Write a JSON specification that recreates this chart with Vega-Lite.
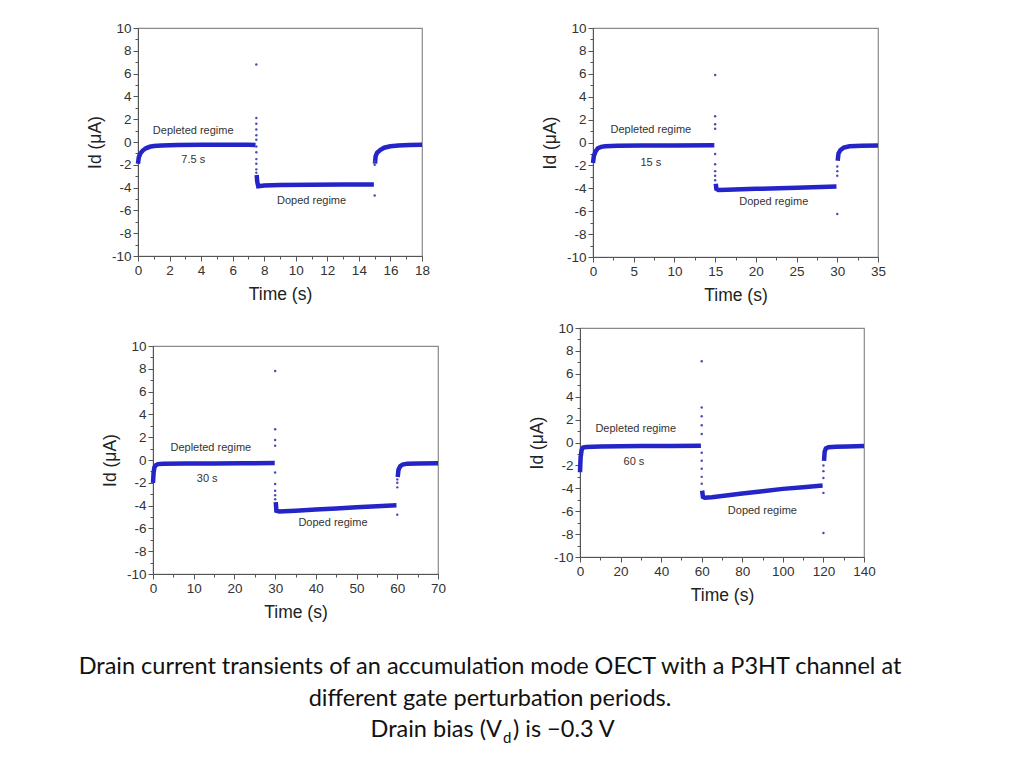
{
  "$schema": "https://vega.github.io/schema/vega-lite/v6.json",
  "padding": {"left": 77, "top": 20, "right": 0, "bottom": 0},
  "background": "white",
  "datasets": {
    "p1": [
      {"seg": "a", "kind": "band", "t": 0, "i": -1.9},
      {"seg": "a", "kind": "band", "t": 0.05, "i": -1.35},
      {"seg": "a", "kind": "band", "t": 0.15, "i": -1.0},
      {"seg": "a", "kind": "band", "t": 0.3, "i": -0.75},
      {"seg": "a", "kind": "band", "t": 0.5, "i": -0.55},
      {"seg": "a", "kind": "band", "t": 0.75, "i": -0.42},
      {"seg": "a", "kind": "band", "t": 1.0, "i": -0.36},
      {"seg": "a", "kind": "band", "t": 1.5, "i": -0.3},
      {"seg": "a", "kind": "band", "t": 2.5, "i": -0.27},
      {"seg": "a", "kind": "band", "t": 4, "i": -0.25},
      {"seg": "a", "kind": "band", "t": 5.5, "i": -0.25},
      {"seg": "a", "kind": "band", "t": 7.0, "i": -0.24},
      {"seg": "a", "kind": "band", "t": 7.45, "i": -0.27},
      {"seg": "b", "kind": "band", "t": 7.52, "i": -2.9},
      {"seg": "b", "kind": "band", "t": 7.56, "i": -3.5},
      {"seg": "b", "kind": "band", "t": 7.62, "i": -3.88},
      {"seg": "b", "kind": "band", "t": 8.0, "i": -3.82},
      {"seg": "b", "kind": "band", "t": 9, "i": -3.78},
      {"seg": "b", "kind": "band", "t": 11, "i": -3.75},
      {"seg": "b", "kind": "band", "t": 13, "i": -3.73},
      {"seg": "b", "kind": "band", "t": 14.95, "i": -3.72},
      {"seg": "c", "kind": "band", "t": 15.02, "i": -1.9},
      {"seg": "c", "kind": "band", "t": 15.06, "i": -1.25},
      {"seg": "c", "kind": "band", "t": 15.15, "i": -0.95},
      {"seg": "c", "kind": "band", "t": 15.35, "i": -0.7},
      {"seg": "c", "kind": "band", "t": 15.6, "i": -0.5},
      {"seg": "c", "kind": "band", "t": 16.0, "i": -0.37},
      {"seg": "c", "kind": "band", "t": 16.5, "i": -0.3},
      {"seg": "c", "kind": "band", "t": 17.2, "i": -0.26},
      {"seg": "c", "kind": "band", "t": 18, "i": -0.25},
      {"seg": "s1", "kind": "dot", "t": 7.5, "i": 6.8},
      {"seg": "s1", "kind": "dot", "t": 7.5, "i": 2.1},
      {"seg": "s1", "kind": "dot", "t": 7.5, "i": 1.6},
      {"seg": "s1", "kind": "dot", "t": 7.5, "i": 1.1},
      {"seg": "s1", "kind": "dot", "t": 7.5, "i": 0.6},
      {"seg": "s1", "kind": "dot", "t": 7.5, "i": 0.2},
      {"seg": "s1", "kind": "dot", "t": 7.5, "i": -0.4},
      {"seg": "s1", "kind": "dot", "t": 7.5, "i": -0.9},
      {"seg": "s1", "kind": "dot", "t": 7.5, "i": -1.5},
      {"seg": "s1", "kind": "dot", "t": 7.5, "i": -1.9},
      {"seg": "s1", "kind": "dot", "t": 7.5, "i": -2.4},
      {"seg": "s1", "kind": "dot", "t": 7.5, "i": -2.7},
      {"seg": "s2", "kind": "dot", "t": 15, "i": -4.7},
      {"seg": "s2", "kind": "dot", "t": 15, "i": -2.0},
      {"seg": "s2", "kind": "dot", "t": 15, "i": -1.7}
    ],
    "p2": [
      {"seg": "a", "kind": "band", "t": 0, "i": -1.8},
      {"seg": "a", "kind": "band", "t": 0.1, "i": -1.2},
      {"seg": "a", "kind": "band", "t": 0.3, "i": -0.8},
      {"seg": "a", "kind": "band", "t": 0.6, "i": -0.5},
      {"seg": "a", "kind": "band", "t": 1.0, "i": -0.38},
      {"seg": "a", "kind": "band", "t": 1.5, "i": -0.32},
      {"seg": "a", "kind": "band", "t": 3, "i": -0.28},
      {"seg": "a", "kind": "band", "t": 6, "i": -0.27},
      {"seg": "a", "kind": "band", "t": 10, "i": -0.26},
      {"seg": "a", "kind": "band", "t": 14.9, "i": -0.25},
      {"seg": "b", "kind": "band", "t": 15.08, "i": -3.6},
      {"seg": "b", "kind": "band", "t": 15.15, "i": -4.05},
      {"seg": "b", "kind": "band", "t": 15.4, "i": -4.15},
      {"seg": "b", "kind": "band", "t": 16.5, "i": -4.12},
      {"seg": "b", "kind": "band", "t": 20, "i": -4.05},
      {"seg": "b", "kind": "band", "t": 25, "i": -3.95},
      {"seg": "b", "kind": "band", "t": 29.9, "i": -3.85},
      {"seg": "c", "kind": "band", "t": 30.05, "i": -1.6},
      {"seg": "c", "kind": "band", "t": 30.15, "i": -0.95},
      {"seg": "c", "kind": "band", "t": 30.4, "i": -0.65},
      {"seg": "c", "kind": "band", "t": 30.8, "i": -0.45},
      {"seg": "c", "kind": "band", "t": 31.5, "i": -0.33},
      {"seg": "c", "kind": "band", "t": 33, "i": -0.28},
      {"seg": "c", "kind": "band", "t": 35, "i": -0.26},
      {"seg": "s1", "kind": "dot", "t": 15, "i": 5.9},
      {"seg": "s1", "kind": "dot", "t": 15, "i": 2.3},
      {"seg": "s1", "kind": "dot", "t": 15, "i": 1.6},
      {"seg": "s1", "kind": "dot", "t": 15, "i": 1.2},
      {"seg": "s1", "kind": "dot", "t": 15, "i": -1.0},
      {"seg": "s1", "kind": "dot", "t": 15, "i": -1.9},
      {"seg": "s1", "kind": "dot", "t": 15, "i": -2.5},
      {"seg": "s1", "kind": "dot", "t": 15, "i": -2.9},
      {"seg": "s1", "kind": "dot", "t": 15, "i": -3.3},
      {"seg": "s2", "kind": "dot", "t": 30, "i": -6.25},
      {"seg": "s2", "kind": "dot", "t": 30, "i": -2.9},
      {"seg": "s2", "kind": "dot", "t": 30, "i": -2.5},
      {"seg": "s2", "kind": "dot", "t": 30, "i": -2.1}
    ],
    "p3": [
      {"seg": "a", "kind": "band", "t": 0, "i": -2.0},
      {"seg": "a", "kind": "band", "t": 0.15, "i": -1.1},
      {"seg": "a", "kind": "band", "t": 0.35, "i": -0.65},
      {"seg": "a", "kind": "band", "t": 0.7, "i": -0.45},
      {"seg": "a", "kind": "band", "t": 1.2, "i": -0.36},
      {"seg": "a", "kind": "band", "t": 2.5, "i": -0.32},
      {"seg": "a", "kind": "band", "t": 8, "i": -0.3},
      {"seg": "a", "kind": "band", "t": 15, "i": -0.3},
      {"seg": "a", "kind": "band", "t": 22, "i": -0.28},
      {"seg": "a", "kind": "band", "t": 29.9, "i": -0.27},
      {"seg": "b", "kind": "band", "t": 30.15, "i": -3.7},
      {"seg": "b", "kind": "band", "t": 30.3, "i": -4.45},
      {"seg": "b", "kind": "band", "t": 31, "i": -4.52},
      {"seg": "b", "kind": "band", "t": 35, "i": -4.45},
      {"seg": "b", "kind": "band", "t": 40, "i": -4.35},
      {"seg": "b", "kind": "band", "t": 45, "i": -4.25},
      {"seg": "b", "kind": "band", "t": 50, "i": -4.15},
      {"seg": "b", "kind": "band", "t": 55, "i": -4.05},
      {"seg": "b", "kind": "band", "t": 59.8, "i": -3.97},
      {"seg": "c", "kind": "band", "t": 60.1, "i": -1.5},
      {"seg": "c", "kind": "band", "t": 60.3, "i": -0.85},
      {"seg": "c", "kind": "band", "t": 60.7, "i": -0.55},
      {"seg": "c", "kind": "band", "t": 61.3, "i": -0.4},
      {"seg": "c", "kind": "band", "t": 62.5, "i": -0.32},
      {"seg": "c", "kind": "band", "t": 65, "i": -0.3},
      {"seg": "c", "kind": "band", "t": 70, "i": -0.28},
      {"seg": "s1", "kind": "dot", "t": 30, "i": 7.8},
      {"seg": "s1", "kind": "dot", "t": 30, "i": 2.7},
      {"seg": "s1", "kind": "dot", "t": 30, "i": 1.75},
      {"seg": "s1", "kind": "dot", "t": 30, "i": 1.25},
      {"seg": "s1", "kind": "dot", "t": 30, "i": -1.1},
      {"seg": "s1", "kind": "dot", "t": 30, "i": -2.1},
      {"seg": "s1", "kind": "dot", "t": 30, "i": -2.7},
      {"seg": "s1", "kind": "dot", "t": 30, "i": -3.1},
      {"seg": "s1", "kind": "dot", "t": 30, "i": -3.45},
      {"seg": "s2", "kind": "dot", "t": 60, "i": -4.8},
      {"seg": "s2", "kind": "dot", "t": 60, "i": -2.4},
      {"seg": "s2", "kind": "dot", "t": 60, "i": -2.0},
      {"seg": "s2", "kind": "dot", "t": 60, "i": -1.7}
    ],
    "p4": [
      {"seg": "a", "kind": "band", "t": 0, "i": -2.6},
      {"seg": "a", "kind": "band", "t": 0.3, "i": -1.3},
      {"seg": "a", "kind": "band", "t": 0.8, "i": -0.65},
      {"seg": "a", "kind": "band", "t": 1.5, "i": -0.45},
      {"seg": "a", "kind": "band", "t": 3, "i": -0.4},
      {"seg": "a", "kind": "band", "t": 10, "i": -0.36},
      {"seg": "a", "kind": "band", "t": 20, "i": -0.33},
      {"seg": "a", "kind": "band", "t": 30, "i": -0.31},
      {"seg": "a", "kind": "band", "t": 45, "i": -0.3},
      {"seg": "a", "kind": "band", "t": 59.6, "i": -0.28},
      {"seg": "b", "kind": "band", "t": 60.2, "i": -4.2},
      {"seg": "b", "kind": "band", "t": 60.6, "i": -4.75},
      {"seg": "b", "kind": "band", "t": 61.5, "i": -4.82},
      {"seg": "b", "kind": "band", "t": 65, "i": -4.78},
      {"seg": "b", "kind": "band", "t": 70, "i": -4.68},
      {"seg": "b", "kind": "band", "t": 80, "i": -4.45},
      {"seg": "b", "kind": "band", "t": 90, "i": -4.25},
      {"seg": "b", "kind": "band", "t": 100, "i": -4.05},
      {"seg": "b", "kind": "band", "t": 110, "i": -3.9},
      {"seg": "b", "kind": "band", "t": 119.6, "i": -3.75},
      {"seg": "c", "kind": "band", "t": 120.3, "i": -1.6},
      {"seg": "c", "kind": "band", "t": 120.6, "i": -0.8},
      {"seg": "c", "kind": "band", "t": 121.2, "i": -0.52},
      {"seg": "c", "kind": "band", "t": 122.5, "i": -0.42},
      {"seg": "c", "kind": "band", "t": 126, "i": -0.38},
      {"seg": "c", "kind": "band", "t": 132, "i": -0.34},
      {"seg": "c", "kind": "band", "t": 140, "i": -0.3},
      {"seg": "s1", "kind": "dot", "t": 60, "i": 7.1},
      {"seg": "s1", "kind": "dot", "t": 60, "i": 3.05},
      {"seg": "s1", "kind": "dot", "t": 60, "i": 2.3},
      {"seg": "s1", "kind": "dot", "t": 60, "i": 1.5},
      {"seg": "s1", "kind": "dot", "t": 60, "i": 0.75},
      {"seg": "s1", "kind": "dot", "t": 60, "i": -0.9},
      {"seg": "s1", "kind": "dot", "t": 60, "i": -1.6},
      {"seg": "s1", "kind": "dot", "t": 60, "i": -2.3},
      {"seg": "s1", "kind": "dot", "t": 60, "i": -3.0},
      {"seg": "s1", "kind": "dot", "t": 60, "i": -3.6},
      {"seg": "s2", "kind": "dot", "t": 120, "i": -7.9},
      {"seg": "s2", "kind": "dot", "t": 120, "i": -4.4},
      {"seg": "s2", "kind": "dot", "t": 120, "i": -3.1},
      {"seg": "s2", "kind": "dot", "t": 120, "i": -2.5},
      {"seg": "s2", "kind": "dot", "t": 120, "i": -2.0}
    ],
    "notes1": [
      {"label": "Depleted regime", "t": 3.5, "i": 1.0},
      {"label": "7.5 s", "t": 3.5, "i": -1.6},
      {"label": "Doped regime", "t": 11.0, "i": -5.2}
    ],
    "notes2": [
      {"label": "Depleted regime", "t": 7.1, "i": 1.07},
      {"label": "15 s", "t": 7.1, "i": -1.8},
      {"label": "Doped regime", "t": 22.2, "i": -5.24}
    ],
    "notes3": [
      {"label": "Depleted regime", "t": 14.2, "i": 1.08},
      {"label": "30 s", "t": 13.3, "i": -1.7},
      {"label": "Doped regime", "t": 44.2, "i": -5.55}
    ],
    "notes4": [
      {"label": "Depleted regime", "t": 27.5, "i": 1.16},
      {"label": "60 s", "t": 26.6, "i": -1.74},
      {"label": "Doped regime", "t": 89.9, "i": -6.0}
    ],
    "caption": [
      {"line": 1, "part": "full", "text": "Drain current transients of an accumulation mode OECT with a P3HT channel at"},
      {"line": 2, "part": "full", "text": "different gate perturbation periods."},
      {"line": 3, "part": "a", "text": "Drain bias (V"},
      {"line": 3, "part": "sub", "text": "d"},
      {"line": 3, "part": "b", "text": ") is −0.3 V"}
    ]
  },
  "vconcat": [
    {
      "hconcat": [
        {
          "width": 284,
          "height": 228,
          "layer": [
            {
              "data": {"name": "p1"},
              "transform": [{"filter": "datum.kind === 'band'"}],
              "mark": {"type": "line", "color": "#2424c8", "strokeWidth": 4.5},
              "encoding": {
                "x": {
                  "field": "t",
                  "type": "quantitative",
                  "title": "Time (s)",
                  "scale": {"domain": [0, 18], "nice": false, "zero": false},
                  "axis": {
                    "values": [0, 1, 2, 3, 4, 5, 6, 7, 8, 9, 10, 11, 12, 13, 14, 15, 16, 17, 18],
                    "tickCount": 60,
                    "labelExpr": "datum.value % 2 === 0 ? '' + datum.value : ''",
                    "labelOverlap": false,
                    "tickSize": {"condition": {"test": "datum.value % 2 === 0", "value": 5}, "value": 3}
                  }
                },
                "y": {
                  "field": "i",
                  "type": "quantitative",
                  "title": "Id (μA)",
                  "scale": {"domain": [-10, 10], "nice": false},
                  "axis": {
                    "values": [-10, -9, -8, -7, -6, -5, -4, -3, -2, -1, 0, 1, 2, 3, 4, 5, 6, 7, 8, 9, 10],
                    "tickCount": 60,
                    "labelExpr": "datum.value % 2 === 0 ? '' + datum.value : ''",
                    "labelOverlap": false,
                    "tickSize": {"condition": {"test": "datum.value % 2 === 0", "value": 5}, "value": 3}
                  }
                },
                "detail": {"field": "seg"}
              }
            },
            {
              "data": {"name": "p1"},
              "transform": [{"filter": "datum.kind === 'dot'"}],
              "mark": {"type": "circle", "color": "#4a4ab8", "size": 6, "opacity": 1},
              "encoding": {
                "x": {"field": "t", "type": "quantitative"},
                "y": {"field": "i", "type": "quantitative"}
              }
            },
            {
              "mark": {"type": "rule", "color": "#8c8c8c", "strokeWidth": 1.2},
              "encoding": {"y": {"datum": 0}}
            },
            {
              "mark": {"type": "rule", "color": "#555555", "strokeWidth": 1, "strokeDash": [2, 2]},
              "encoding": {"y": {"datum": -4.12}}
            },
            {
              "data": {"name": "notes1"},
              "mark": {"type": "text", "font": "Liberation Sans", "fontSize": 11, "color": "#333333"},
              "encoding": {
                "x": {"field": "t", "type": "quantitative"},
                "y": {"field": "i", "type": "quantitative"},
                "text": {"field": "label"}
              }
            }
          ]
        },
        {
          "width": 285,
          "height": 229,
          "layer": [
            {
              "data": {"name": "p2"},
              "transform": [{"filter": "datum.kind === 'band'"}],
              "mark": {"type": "line", "color": "#2424c8", "strokeWidth": 4.5},
              "encoding": {
                "x": {
                  "field": "t",
                  "type": "quantitative",
                  "title": "Time (s)",
                  "scale": {"domain": [0, 35], "nice": false, "zero": false},
                  "axis": {
                    "values": [0, 2.5, 5, 7.5, 10, 12.5, 15, 17.5, 20, 22.5, 25, 27.5, 30, 32.5, 35],
                    "tickCount": 60,
                    "labelExpr": "datum.value % 5 === 0 ? '' + datum.value : ''",
                    "labelOverlap": false,
                    "tickSize": {"condition": {"test": "datum.value % 5 === 0", "value": 5}, "value": 3}
                  }
                },
                "y": {
                  "field": "i",
                  "type": "quantitative",
                  "title": "Id (μA)",
                  "scale": {"domain": [-10, 10], "nice": false},
                  "axis": {
                    "values": [-10, -9, -8, -7, -6, -5, -4, -3, -2, -1, 0, 1, 2, 3, 4, 5, 6, 7, 8, 9, 10],
                    "tickCount": 60,
                    "labelExpr": "datum.value % 2 === 0 ? '' + datum.value : ''",
                    "labelOverlap": false,
                    "tickSize": {"condition": {"test": "datum.value % 2 === 0", "value": 5}, "value": 3}
                  }
                },
                "detail": {"field": "seg"}
              }
            },
            {
              "data": {"name": "p2"},
              "transform": [{"filter": "datum.kind === 'dot'"}],
              "mark": {"type": "circle", "color": "#4a4ab8", "size": 6, "opacity": 1},
              "encoding": {
                "x": {"field": "t", "type": "quantitative"},
                "y": {"field": "i", "type": "quantitative"}
              }
            },
            {
              "mark": {"type": "rule", "color": "#8c8c8c", "strokeWidth": 1.2},
              "encoding": {"y": {"datum": 0}}
            },
            {
              "mark": {"type": "rule", "color": "#555555", "strokeWidth": 1, "strokeDash": [2, 2]},
              "encoding": {"y": {"datum": -4.43}}
            },
            {
              "data": {"name": "notes2"},
              "mark": {"type": "text", "font": "Liberation Sans", "fontSize": 11, "color": "#333333"},
              "encoding": {
                "x": {"field": "t", "type": "quantitative"},
                "y": {"field": "i", "type": "quantitative"},
                "text": {"field": "label"}
              }
            }
          ]
        }
      ],
      "spacing": 108
    },
    {
      "hconcat": [
        {
          "hconcat": [
            {
              "width": 1,
              "height": 1,
              "view": {"stroke": null},
              "data": {"values": [{}]},
              "mark": {"type": "point", "opacity": 0, "size": 0}
            },
            {
              "vconcat": [
                {
                  "width": 1,
                  "height": 1,
                  "view": {"stroke": null},
                  "data": {"values": [{}]},
                  "mark": {"type": "point", "opacity": 0, "size": 0}
                },
                {
                  "width": 285,
                  "height": 228,
                  "layer": [
                    {
                      "data": {"name": "p3"},
                      "transform": [{"filter": "datum.kind === 'band'"}],
                      "mark": {"type": "line", "color": "#2424c8", "strokeWidth": 4.5},
                      "encoding": {
                        "x": {
                          "field": "t",
                          "type": "quantitative",
                          "title": "Time (s)",
                          "scale": {"domain": [0, 70], "nice": false, "zero": false},
                          "axis": {
                            "values": [0, 5, 10, 15, 20, 25, 30, 35, 40, 45, 50, 55, 60, 65, 70],
                            "tickCount": 60,
                            "labelExpr": "datum.value % 10 === 0 ? '' + datum.value : ''",
                            "labelOverlap": false,
                            "tickSize": {"condition": {"test": "datum.value % 10 === 0", "value": 5}, "value": 3}
                          }
                        },
                        "y": {
                          "field": "i",
                          "type": "quantitative",
                          "title": "Id (μA)",
                          "scale": {"domain": [-10, 10], "nice": false},
                          "axis": {
                            "values": [-10, -9, -8, -7, -6, -5, -4, -3, -2, -1, 0, 1, 2, 3, 4, 5, 6, 7, 8, 9, 10],
                            "tickCount": 60,
                            "labelExpr": "datum.value % 2 === 0 ? '' + datum.value : ''",
                            "labelOverlap": false,
                            "tickSize": {"condition": {"test": "datum.value % 2 === 0", "value": 5}, "value": 3}
                          }
                        },
                        "detail": {"field": "seg"}
                      }
                    },
                    {
                      "data": {"name": "p3"},
                      "transform": [{"filter": "datum.kind === 'dot'"}],
                      "mark": {"type": "circle", "color": "#4a4ab8", "size": 6, "opacity": 1},
                      "encoding": {
                        "x": {"field": "t", "type": "quantitative"},
                        "y": {"field": "i", "type": "quantitative"}
                      }
                    },
                    {
                      "mark": {"type": "rule", "color": "#8c8c8c", "strokeWidth": 1.2},
                      "encoding": {"y": {"datum": 0}}
                    },
                    {
                      "mark": {"type": "rule", "color": "#555555", "strokeWidth": 1, "strokeDash": [2, 2]},
                      "encoding": {"y": {"datum": -4.88}}
                    },
                    {
                      "data": {"name": "notes3"},
                      "mark": {"type": "text", "font": "Liberation Sans", "fontSize": 11, "color": "#333333"},
                      "encoding": {
                        "x": {"field": "t", "type": "quantitative"},
                        "y": {"field": "i", "type": "quantitative"},
                        "text": {"field": "label"}
                      }
                    }
                  ]
                }
              ],
              "spacing": 9
            }
          ],
          "spacing": -39
        },
        {
          "width": 284,
          "height": 229,
          "layer": [
            {
              "data": {"name": "p4"},
              "transform": [{"filter": "datum.kind === 'band'"}],
              "mark": {"type": "line", "color": "#2424c8", "strokeWidth": 4.5},
              "encoding": {
                "x": {
                  "field": "t",
                  "type": "quantitative",
                  "title": "Time (s)",
                  "scale": {"domain": [0, 140], "nice": false, "zero": false},
                  "axis": {
                    "values": [0, 10, 20, 30, 40, 50, 60, 70, 80, 90, 100, 110, 120, 130, 140],
                    "tickCount": 60,
                    "labelExpr": "datum.value % 20 === 0 ? '' + datum.value : ''",
                    "labelOverlap": false,
                    "tickSize": {"condition": {"test": "datum.value % 20 === 0", "value": 5}, "value": 3}
                  }
                },
                "y": {
                  "field": "i",
                  "type": "quantitative",
                  "title": "Id (μA)",
                  "scale": {"domain": [-10, 10], "nice": false},
                  "axis": {
                    "values": [-10, -9, -8, -7, -6, -5, -4, -3, -2, -1, 0, 1, 2, 3, 4, 5, 6, 7, 8, 9, 10],
                    "tickCount": 60,
                    "labelExpr": "datum.value % 2 === 0 ? '' + datum.value : ''",
                    "labelOverlap": false,
                    "tickSize": {"condition": {"test": "datum.value % 2 === 0", "value": 5}, "value": 3}
                  }
                },
                "detail": {"field": "seg"}
              }
            },
            {
              "data": {"name": "p4"},
              "transform": [{"filter": "datum.kind === 'dot'"}],
              "mark": {"type": "circle", "color": "#4a4ab8", "size": 6, "opacity": 1},
              "encoding": {
                "x": {"field": "t", "type": "quantitative"},
                "y": {"field": "i", "type": "quantitative"}
              }
            },
            {
              "mark": {"type": "rule", "color": "#8c8c8c", "strokeWidth": 1.2},
              "encoding": {"y": {"datum": 0}}
            },
            {
              "mark": {"type": "rule", "color": "#555555", "strokeWidth": 1, "strokeDash": [2, 2]},
              "encoding": {"y": {"datum": -5.07}}
            },
            {
              "data": {"name": "notes4"},
              "mark": {"type": "text", "font": "Liberation Sans", "fontSize": 11, "color": "#333333"},
              "encoding": {
                "x": {"field": "t", "type": "quantitative"},
                "y": {"field": "i", "type": "quantitative"},
                "text": {"field": "label"}
              }
            }
          ]
        }
      ],
      "spacing": 79
    },
    {
      "width": 704,
      "height": 123,
      "view": {"stroke": null},
      "data": {"name": "caption"},
      "encoding": {
        "y": {"field": "line", "type": "ordinal", "axis": null, "scale": {"type": "point", "padding": 0.96}}
      },
      "layer": [
        {
          "transform": [{"filter": "datum.part === 'full'"}],
          "mark": {"type": "text", "font": "Lato", "fontSize": 23.5, "color": "#111111", "baseline": "middle"},
          "encoding": {"text": {"field": "text"}}
        },
        {
          "transform": [{"filter": "datum.part === 'a'"}],
          "mark": {"type": "text", "font": "Lato", "fontSize": 23.5, "color": "#111111", "baseline": "middle", "align": "right", "dx": 12},
          "encoding": {"text": {"field": "text"}}
        },
        {
          "transform": [{"filter": "datum.part === 'sub'"}],
          "mark": {"type": "text", "font": "Lato", "fontSize": 15, "color": "#111111", "baseline": "middle", "align": "left", "dx": 13, "dy": 8},
          "encoding": {"text": {"field": "text"}}
        },
        {
          "transform": [{"filter": "datum.part === 'b'"}],
          "mark": {"type": "text", "font": "Lato", "fontSize": 23.5, "color": "#111111", "baseline": "middle", "align": "left", "dx": 23},
          "encoding": {"text": {"field": "text"}}
        }
      ]
    }
  ],
  "spacing": 15,
  "config": {
    "view": {"stroke": "#8a8a8a", "strokeWidth": 1.2},
    "axis": {
      "grid": false,
      "labelFont": "Liberation Sans",
      "labelFontSize": 13.5,
      "labelColor": "#333333",
      "labelPadding": 2,
      "titleFont": "Liberation Sans",
      "titleFontSize": 17.5,
      "titleFontWeight": "normal",
      "titleColor": "#222222",
      "domainColor": "#555555",
      "tickColor": "#555555",
      "labelFlush": false
    },
    "axisX": {"titlePadding": 9},
    "axisY": {"titlePadding": 7}
  }
}
